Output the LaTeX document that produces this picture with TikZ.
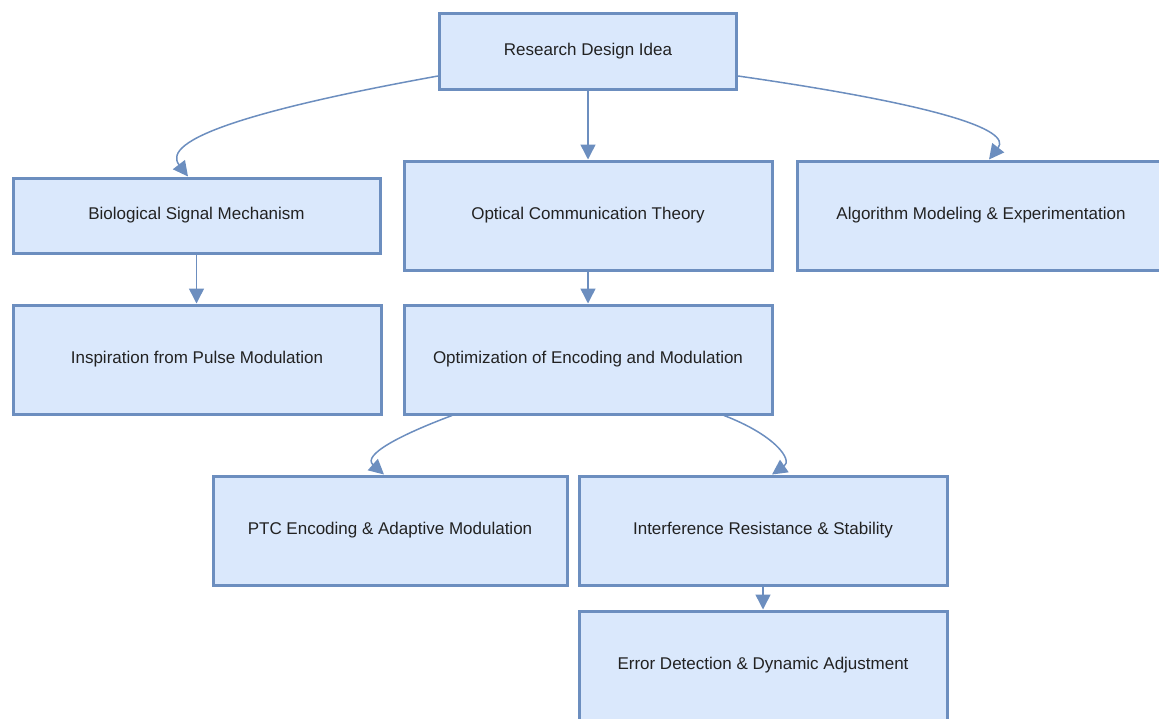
\documentclass[tikz,border=0pt]{standalone}
\usepackage{fontspec}
\setmainfont{Liberation Sans}
\usetikzlibrary{arrows.meta}
\definecolor{boxfill}{HTML}{DAE8FC}
\definecolor{boxline}{HTML}{6C8EBF}
\definecolor{txt}{HTML}{222222}
\tikzset{
  box/.style={draw=boxline, fill=boxfill, line width=3pt, inner sep=0pt,
    text=txt, font=\fontsize{17}{20}\selectfont, anchor=center},
  conn/.style={draw=boxline, line width=1.5pt, -{Triangle[length=15pt,width=15pt]}}
}
\begin{document}
\begin{tikzpicture}[x=1pt,y=-1pt]
\useasboundingbox (0,0) rectangle (1159,718);
\clip (0,0) rectangle (1159,718);
\node[box, minimum width=297pt, minimum height=76pt] (rd) at (588,51) {Research Design Idea};
\node[box, minimum width=367pt, minimum height=75pt] (bio) at (196.5,215.5) {Biological Signal Mechanism};
\node[box, minimum width=368pt, minimum height=109pt] (oct) at (588,215.5) {Optical Communication Theory};
\node[box, minimum width=368pt, minimum height=109pt] (alg) at (981,215.5) {Algorithm Modeling \& Experimentation};
\node[box, minimum width=368pt, minimum height=109pt] (insp) at (197,359.5) {Inspiration from Pulse Modulation};
\node[box, minimum width=368pt, minimum height=109pt] (optim) at (588,359.5) {Optimization of Encoding and Modulation};
\node[box, minimum width=354pt, minimum height=109pt] (ptc) at (390,530.5) {PTC Encoding \& Adaptive Modulation};
\node[box, minimum width=368pt, minimum height=109pt] (intf) at (763,530.5) {Interference Resistance \& Stability};
\node[box, minimum width=368pt, minimum height=109pt] (err) at (763,665.5) {Error Detection \& Dynamic Adjustment};

\draw[conn] (rd.west |- 0,76) .. controls (250,110) and (160,140) .. (bio.north -| 188,0);
\draw[conn] (rd.south) -- (oct.north);
\draw[conn] (rd.east |- 0,76) .. controls (940,105) and (1012,130) .. (alg.north -| 989,0);
\draw[conn] (bio.south) -- (insp.north -| 196.5,0);
\draw[conn] (oct.south) -- (optim.north);
\draw[conn] (optim.south -| 452,0) .. controls (400,435) and (362,455) .. (ptc.north -| 384,0);
\draw[conn] (optim.south -| 724,0) .. controls (775,435) and (793,460) .. (intf.north -| 772,0);
\draw[conn] (intf.south) -- (err.north);
\end{tikzpicture}
\end{document}
